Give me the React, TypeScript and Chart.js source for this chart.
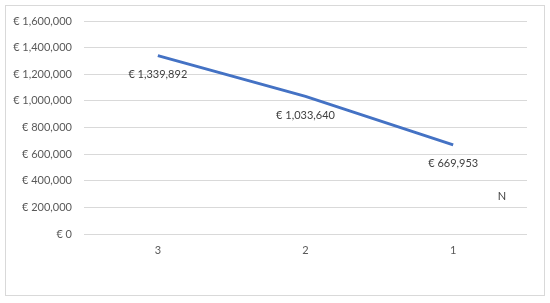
import React, { useEffect, useRef } from "react";
import { Chart, registerables } from "chart.js";

Chart.register(...registerables);

const categories = ["3", "2", "1"];
const values = [1339892, 1033640, 669953];
const yTicksMax = 1600000;
const yStep = 200000;
const extraLabel = "N";
const extraLabelValue = 280000;

const FONT = "Lato, 'Liberation Sans', sans-serif";
const fmt = (v: number) => "€ " + Math.round(v).toLocaleString("en-US");

const decorPlugin = {
  id: "decor",
  beforeDraw(chart: any) {
    const ctx = chart.ctx;
    ctx.save();
    ctx.fillStyle = "#ffffff";
    ctx.fillRect(0, 0, chart.width, chart.height);
    ctx.strokeStyle = "#d9d9d9";
    ctx.lineWidth = 1;
    ctx.strokeRect(5.5, 5.5, chart.width - 11, chart.height - 13);
    ctx.restore();
  },
  afterDatasetsDraw(chart: any) {
    const ctx = chart.ctx;
    const meta = chart.getDatasetMeta(0);
    ctx.save();
    ctx.font = `11px ${FONT}`;
    ctx.fillStyle = "#404040";
    ctx.textAlign = "center";
    ctx.textBaseline = "middle";
    meta.data.forEach((pt: any, i: number) => {
      ctx.fillText(fmt(values[i]), pt.x, pt.y + 19);
    });
    const ys = chart.scales.y;
    ctx.fillText(extraLabel, chart.chartArea.right - 25, ys.getPixelForValue(extraLabelValue));
    ctx.restore();
  },
};

export default function App() {
  const ref = useRef<HTMLCanvasElement>(null);
  useEffect(() => {
    document.body.style.margin = "0";
    const chart = new Chart(ref.current!, {
      type: "line",
      data: {
        labels: categories,
        datasets: [
          {
            data: values,
            borderColor: "#4472C4",
            borderWidth: 3,
            pointRadius: 0,
            tension: 0,
            fill: false,
          },
        ],
      },
      options: {
        animation: false,
        responsive: false,
        layout: { padding: { top: 21, right: 23, bottom: 0, left: 0 } },
        plugins: { legend: { display: false }, tooltip: { enabled: false } },
        scales: {
          x: {
            offset: true,
            grid: { display: false, drawTicks: false },
            border: { display: false },
            ticks: { color: "#595959", font: { size: 11, family: FONT }, padding: 10 },
            afterFit: (s: any) => { s.height = 69; },
          },
          y: {
            min: 0,
            max: yTicksMax,
            grid: { color: "#d9d9d9", drawTicks: false },
            border: { display: false },
            ticks: {
              stepSize: yStep,
              color: "#595959",
              font: { size: 11, family: FONT },
              padding: 12,
              callback: (v: any) => fmt(Number(v)),
            },
            afterFit: (s: any) => { s.width = 84; },
          },
        },
      },
      plugins: [decorPlugin],
    });
    return () => chart.destroy();
  }, []);
  return <canvas ref={ref} width={550} height={303} style={{ display: "block" }} />;
}
